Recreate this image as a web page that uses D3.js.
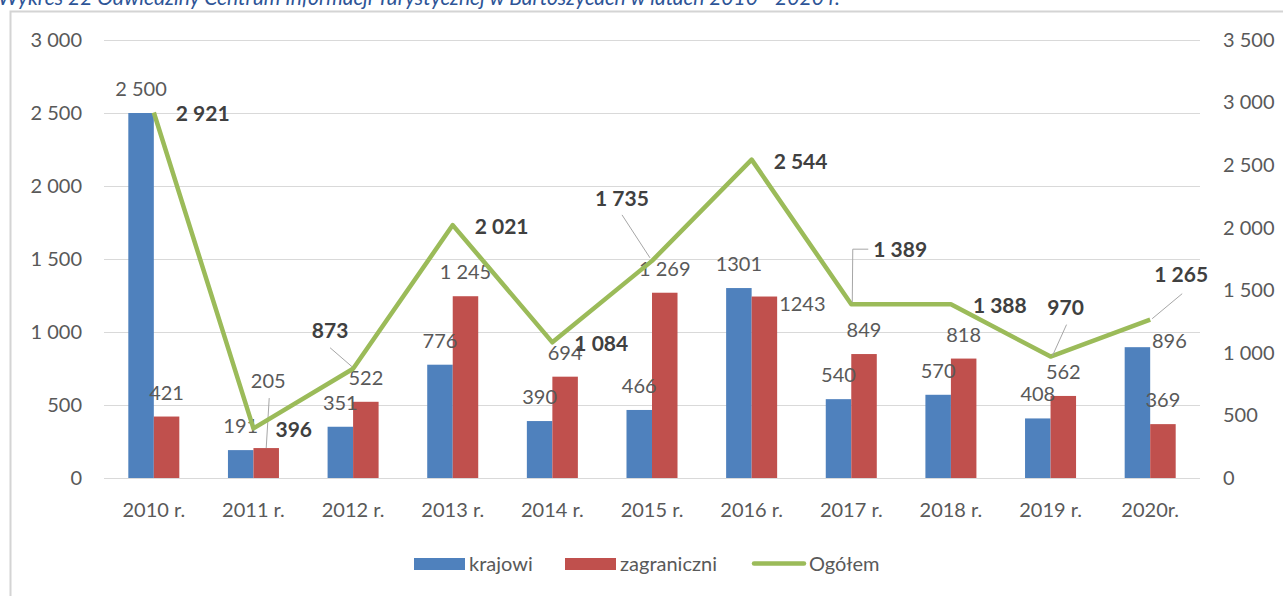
<!DOCTYPE html>
<html>
<head>
<meta charset="utf-8">
<script src="https://cdn.jsdelivr.net/npm/d3@7"></script>
<style>
    html, body { margin: 0; padding: 0; background: #fff; }
    svg { display: block; font-family: Lato, "Open Sans", sans-serif; }
</style>
</head>
<body>
<div id="graph"></div>
<script>
// values
var years = ['2010 r.', '2011 r.', '2012 r.', '2013 r.', '2014 r.', '2015 r.', '2016 r.', '2017 r.', '2018 r.', '2019 r.', '2020r.'];
var krajowi = [2500, 191, 351, 776, 390, 466, 1301, 540, 570, 408, 896];
var zagraniczni = [421, 205, 522, 1245, 694, 1269, 1243, 849, 818, 562, 369];
var ogolem = [2921, 396, 873, 2021, 1084, 1735, 2544, 1389, 1388, 970, 1265];
var leftTicks = [0, 500, 1000, 1500, 2000, 2500, 3000];
var rightTicks = [0, 500, 1000, 1500, 2000, 2500, 3000, 3500];
var seriesNames = ['krajowi', 'zagraniczni', 'Ogółem'];
var title = 'Wykres 22 Odwiedziny Centrum Informacji Turystycznej w Bartoszycach w latach 2010 - 2020 r.';
var noSeparator = ['2016 r.'];   // bar labels printed without the thousands space

function createChart() {
    var W = 1283, H = 596;
    var plot = {left: 104, right: 1200, top: 40, bottom: 478};
    var colours = {krajowi: '#4F81BD', zagraniczni: '#C0504D', total: '#9BBB59'};
    var grey = '#595959';
    var fs = 20;

    var locale = d3.formatLocale({decimal: ',', thousands: ' ', grouping: [3], currency: ['', '']});
    var fmt = locale.format(',d');
    var barLabel = function(v, year) {
        return noSeparator.indexOf(year) >= 0 ? String(v) : fmt(v);
    };

    var xScale = d3.scaleBand().domain(years).range([plot.left, plot.right]);
    var groupW = xScale.bandwidth() * 0.512;
    var xSub = d3.scaleBand().domain(['krajowi', 'zagraniczni']).range([-groupW / 2, groupW / 2]);
    var yLeft = d3.scaleLinear().domain([0, 3000]).range([plot.bottom, plot.top]);
    var yRight = d3.scaleLinear().domain([0, 3500]).range([plot.bottom, plot.top]);
    var cx = function(year) { return xScale(year) + xScale.bandwidth() / 2; };

    var svg = d3.select('#graph').append('svg')
        .attr('width', W)
        .attr('height', H);

    // title, partly cut off at the top as in the source
    svg.append('text')
        .attr('x', -2)
        .attr('y', 5)
        .attr('fill', '#2E5597')
        .attr('font-style', 'italic')
        .attr('font-size', 21)
        .text(title);

    // chart frame
    svg.append('path')
        .attr('d', 'M10.5,' + (H + 2) + 'V11.5H' + (W + 2))
        .attr('fill', 'none')
        .attr('stroke', '#D4D4D4')
        .attr('stroke-width', 2);

    // gridlines
    svg.append('g')
        .attr('transform', 'translate(' + plot.left + ',0)')
        .call(d3.axisLeft(yLeft).tickValues(leftTicks).tickSize(-(plot.right - plot.left)).tickFormat(''))
        .call(function(g) { g.select('.domain').remove(); })
        .selectAll('line')
        .attr('stroke', '#D9D9D9');

    // left axis labels
    var leftAxis = svg.append('g')
        .attr('transform', 'translate(' + 82 + ',0)')
        .call(d3.axisLeft(yLeft).tickValues(leftTicks).tickSize(0).tickPadding(0).tickFormat(fmt));
    leftAxis.select('.domain').remove();
    leftAxis.selectAll('text')
        .attr('fill', grey)
        .attr('font-size', fs)
        .attr('font-family', 'Lato');

    // right axis labels
    var rightAxis = svg.append('g')
        .attr('transform', 'translate(' + 1223 + ',0)')
        .call(d3.axisRight(yRight).tickValues(rightTicks).tickSize(0).tickPadding(0).tickFormat(fmt));
    rightAxis.select('.domain').remove();
    rightAxis.selectAll('text')
        .attr('fill', grey)
        .attr('font-size', fs)
        .attr('font-family', 'Lato');

    // category axis
    var xAxis = svg.append('g')
        .attr('transform', 'translate(0,' + plot.bottom + ')')
        .call(d3.axisBottom(xScale).tickSize(0).tickPadding(25));
    xAxis.select('.domain').remove();
    xAxis.selectAll('text')
        .attr('fill', grey)
        .attr('font-size', fs)
        .attr('font-family', 'Lato');

    // bars
    var barSeries = [
        {key: 'krajowi', values: krajowi,
         adjust: {'2020r.': {dx: 32, dy: 18}}},
        {key: 'zagraniczni', values: zagraniczni,
         adjust: {'2011 r.': {dx: 2, dy: -43, leader: true}, '2016 r.': {dx: 38, dy: 31}}}
    ];

    var bars = svg.append('g').attr('class', 'bars');
    var barLabels = svg.append('g').attr('class', 'bar-labels');
    barSeries.forEach(function(s) {
        var rows = years.map(function(y, i) { return {year: y, value: s.values[i]}; });
        bars.selectAll('rect.' + s.key)
            .data(rows)
            .join('rect')
            .attr('class', s.key)
            .attr('x', function(d) { return cx(d.year) + xSub(s.key); })
            .attr('width', xSub.bandwidth())
            .attr('y', function(d) { return yLeft(d.value); })
            .attr('height', function(d) { return yLeft(0) - yLeft(d.value); })
            .attr('fill', colours[s.key]);

        rows.forEach(function(d) {
            var bx = cx(d.year) + xSub(s.key) + xSub.bandwidth() / 2;
            var top = yLeft(d.value);
            var a = s.adjust[d.year] || {dx: 0, dy: 0};
            var tx = bx + a.dx, ty = top - 17 + a.dy;
            if (a.leader) {
                barLabels.append('line')
                    .attr('x1', tx + 1).attr('y1', ty + 10)
                    .attr('x2', bx).attr('y2', top)
                    .attr('stroke', '#A6A6A6')
                    .attr('stroke-width', 1);
            }
            barLabels.append('text')
                .attr('x', tx)
                .attr('y', ty)
                .attr('text-anchor', 'middle')
                .attr('fill', grey)
                .attr('font-size', fs)
                .text(barLabel(d.value, d.year));
        });
    });

    // total line (right axis)
    var line = d3.line()
        .x(function(d, i) { return cx(years[i]); })
        .y(function(d) { return yRight(d); });

    svg.append('path')
        .datum(ogolem)
        .attr('d', line)
        .attr('fill', 'none')
        .attr('stroke', colours.total)
        .attr('stroke-width', 4.5)
        .attr('stroke-linejoin', 'round');

    // total labels: default to the right of the point, some moved with leader lines
    var totalAdjust = {
        '2012 r.': {anchor: 'middle', dx: -23, dy: -31, leader: [[-23, -21], [-1, -2]]},
        '2015 r.': {anchor: 'middle', dx: -30, dy: -55, leader: [[-30, -46], [-2, -3]]},
        '2017 r.': {anchor: 'start', dx: 22, dy: -47, leader: [[1, -2], [1.5, -55], [17, -55]]},
        '2019 r.': {anchor: 'middle', dx: 15, dy: -42, leader: [[16, -32], [2, -1]]},
        '2020r.': {anchor: 'middle', dx: 31, dy: -38, leader: [[32, -26], [2, -1]]}
    };
    var totals = svg.append('g').attr('class', 'total-labels');
    ogolem.forEach(function(v, i) {
        var px = cx(years[i]), py = yRight(v);
        var a = totalAdjust[years[i]] || {anchor: 'start', dx: 22, dy: 9};
        if (a.leader) {
            totals.append('path')
                .attr('d', d3.line()(a.leader.map(function(p) { return [px + p[0], py + p[1]]; })))
                .attr('fill', 'none')
                .attr('stroke', '#A6A6A6')
                .attr('stroke-width', 1);
        }
        totals.append('text')
            .attr('x', px + a.dx)
            .attr('y', py + a.dy)
            .attr('text-anchor', a.anchor)
            .attr('fill', '#404040')
            .attr('font-weight', 'bold')
            .attr('font-size', 21)
            .text(fmt(v));
    });

    // legend
    var legend = svg.append('g').attr('class', 'legend');
    var legendX = [414, 565, 752];
    seriesNames.forEach(function(name, i) {
        var x = legendX[i];
        if (i < 2) {
            legend.append('rect')
                .attr('x', x).attr('y', 558)
                .attr('width', 51).attr('height', 12)
                .attr('fill', colours[name]);
        } else {
            legend.append('line')
                .attr('x1', x + 2).attr('x2', x + 52)
                .attr('y1', 563.5).attr('y2', 563.5)
                .attr('stroke', colours.total)
                .attr('stroke-width', 4.5)
                .attr('stroke-linecap', 'round');
        }
        legend.append('text')
            .attr('x', x + (i < 2 ? 55 : 57))
            .attr('y', 571)
            .attr('fill', grey)
            .attr('font-size', fs)
            .text(name);
    });
}

createChart();
</script>
</body>
</html>
